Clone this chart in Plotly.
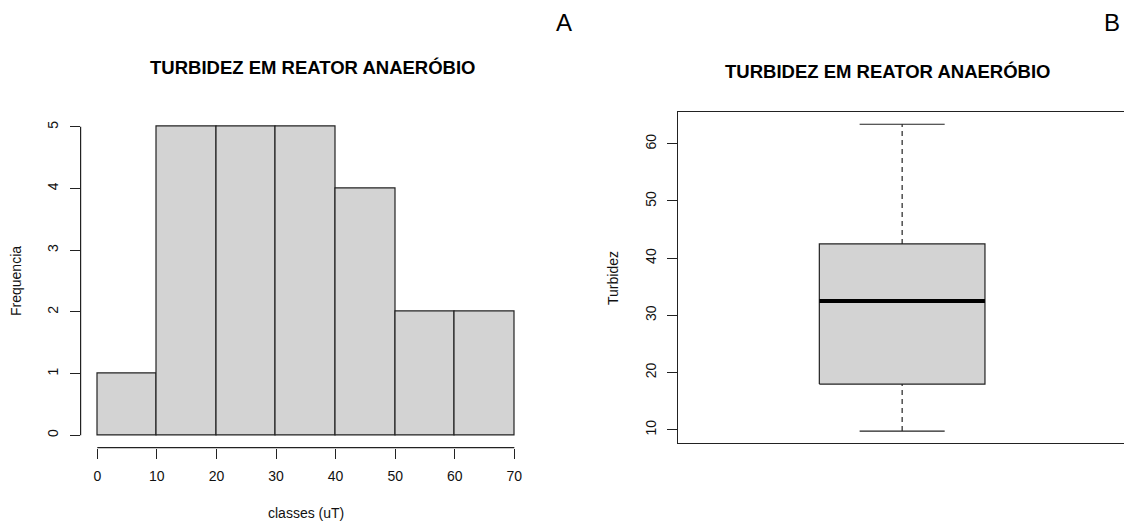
import plotly.graph_objects as go

# Histogram data: class edges (uT) and counts per class
bin_edges = [0, 10, 20, 30, 40, 50, 60, 70]
frequencias = [1, 5, 5, 5, 4, 2, 2]
x_ticks = [0, 10, 20, 30, 40, 50, 60, 70]
y_ticks_hist = [0, 1, 2, 3, 4, 5]

# Boxplot summary of turbidity
turb_min = 9.8
turb_q1 = 18.0
turb_mediana = 32.5
turb_q3 = 42.5
turb_max = 63.4
y_ticks_box = [10, 20, 30, 40, 50, 60]

titulo = "TURBIDEZ EM REATOR ANAERÓBIO"

W, H = 1124, 524
FILL = "#d3d3d3"
INK = "#222222"
FONT = "Liberation Sans, Arial, sans-serif"


def px_x(p):
    return p / W


def px_y(p):
    return 1 - p / H


fig = go.Figure()

# ---- histogram (left panel) ----
centers = [(a + b) / 2 for a, b in zip(bin_edges[:-1], bin_edges[1:])]
widths = [b - a for a, b in zip(bin_edges[:-1], bin_edges[1:])]
fig.add_trace(go.Bar(
    x=centers, y=frequencias, width=widths,
    marker=dict(color=FILL, line=dict(color=INK, width=1.2)),
    xaxis="x", yaxis="y", showlegend=False, hoverinfo="skip",
))

# R-style 4% range extension
xr = bin_edges[-1] - bin_edges[0]
yr = max(frequencias)
hist_xrange = [bin_edges[0] - 0.04 * xr, bin_edges[-1] + 0.04 * xr]
hist_yrange = [-0.04 * yr, yr * 1.04]

# ---- boxplot (right panel) ----
bx = 1.0
half_box = 0.185
half_cap = 0.095
box_line = dict(color=INK, width=1.2)

fig.add_trace(go.Scatter(
    x=[bx - half_box, bx + half_box, bx + half_box, bx - half_box, bx - half_box],
    y=[turb_q1, turb_q1, turb_q3, turb_q3, turb_q1],
    mode="lines", fill="toself", fillcolor=FILL, line=box_line,
    xaxis="x2", yaxis="y2", showlegend=False, hoverinfo="skip",
))
fig.add_trace(go.Scatter(
    x=[bx - half_box, bx + half_box], y=[turb_mediana, turb_mediana],
    mode="lines", line=dict(color="black", width=4),
    xaxis="x2", yaxis="y2", showlegend=False, hoverinfo="skip",
))
for lo, hi in [(turb_q3, turb_max), (turb_min, turb_q1)]:
    fig.add_trace(go.Scatter(
        x=[bx, bx], y=[lo, hi], mode="lines",
        line=dict(color=INK, width=1.2, dash="5px,4px"),
        xaxis="x2", yaxis="y2", showlegend=False, hoverinfo="skip",
    ))
for v in [turb_max, turb_min]:
    fig.add_trace(go.Scatter(
        x=[bx - half_cap, bx + half_cap], y=[v, v], mode="lines",
        line=box_line,
        xaxis="x2", yaxis="y2", showlegend=False, hoverinfo="skip",
    ))

br = turb_max - turb_min
box_yrange = [turb_min - 0.04 * br, turb_max + 0.04 * br]

tickfont = dict(family=FONT, size=14, color="#111")

fig.update_layout(
    width=W, height=H,
    margin=dict(l=0, r=0, t=0, b=0),
    paper_bgcolor="white", plot_bgcolor="white",
    bargap=0,
    xaxis=dict(
        domain=[px_x(80.6), px_x(531)], range=hist_xrange, anchor="y",
        showgrid=False, zeroline=False, showline=False,
        tickmode="array", tickvals=x_ticks, ticks="outside", ticklen=10,
        tickwidth=1.2, tickcolor=INK, tickfont=tickfont, ticklabelstandoff=6,
    ),
    yaxis=dict(
        domain=[px_y(447.6), px_y(114.5)], range=hist_yrange, anchor="x",
        showgrid=False, zeroline=False, showline=False,
        tickmode="array", tickvals=y_ticks_hist, ticks="outside", ticklen=10,
        tickwidth=1.2, tickcolor=INK, tickfont=tickfont, tickangle=-90,
        ticklabelstandoff=6,
    ),
    xaxis2=dict(
        domain=[px_x(678.3), 1.0], range=[0.5, 0.5 + (W - 678.3) / 447.7],
        anchor="y2", showgrid=False, zeroline=False,
        showline=True, mirror=True, linecolor=INK, linewidth=1.2,
        showticklabels=False, ticks="",
    ),
    yaxis2=dict(
        domain=[px_y(443.3), px_y(112)], range=box_yrange, anchor="x2",
        showgrid=False, zeroline=False,
        showline=True, linecolor=INK, linewidth=1.2,
        tickmode="array", tickvals=y_ticks_box, ticks="outside", ticklen=10,
        tickwidth=1.2, tickcolor=INK, tickfont=tickfont, tickangle=-90,
        ticklabelstandoff=6,
    ),
    shapes=[
        # detached histogram axes spanning only the data range
        dict(type="line", xref="x domain", yref="y", x0=0, x1=0,
             y0=0, y1=max(frequencias), line=dict(color=INK, width=1.2)),
        dict(type="line", xref="x", yref="y domain", x0=bin_edges[0],
             x1=bin_edges[-1], y0=0, y1=0, line=dict(color=INK, width=1.2)),
    ],
    annotations=[
        dict(text=f"<b>{titulo}</b>", x=px_x(312), y=px_y(67), xref="paper",
             yref="paper", showarrow=False, xanchor="center", yanchor="middle",
             font=dict(family=FONT, size=18.5, color="black")),
        dict(text=f"<b>{titulo}</b>", x=px_x(887), y=px_y(71), xref="paper",
             yref="paper", showarrow=False, xanchor="center", yanchor="middle",
             font=dict(family=FONT, size=18.5, color="black")),
        dict(text="Frequencia", x=px_x(16), y=px_y(281), xref="paper",
             yref="paper", showarrow=False, textangle=-90,
             xanchor="center", yanchor="middle",
             font=dict(family=FONT, size=14, color="#111")),
        dict(text="classes (uT)", x=px_x(306), y=px_y(513), xref="paper",
             yref="paper", showarrow=False, xanchor="center", yanchor="middle",
             font=dict(family=FONT, size=14, color="#111")),
        dict(text="Turbidez", x=px_x(613), y=px_y(278), xref="paper",
             yref="paper", showarrow=False, textangle=-90,
             xanchor="center", yanchor="middle",
             font=dict(family=FONT, size=14, color="#111")),
        dict(text="A", x=px_x(564), y=px_y(23), xref="paper", yref="paper",
             showarrow=False, xanchor="center", yanchor="middle",
             font=dict(family=FONT, size=24, color="black")),
        dict(text="B", x=px_x(1112), y=px_y(23), xref="paper", yref="paper",
             showarrow=False, xanchor="center", yanchor="middle",
             font=dict(family=FONT, size=24, color="black")),
    ],
)

fig.write_html("out.html")
